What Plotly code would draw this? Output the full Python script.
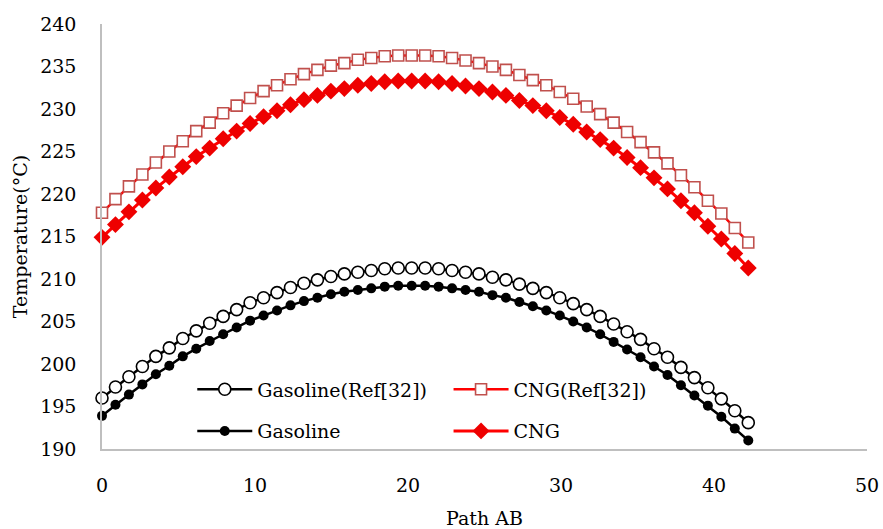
import plotly.graph_objects as go

# Path positions (49 stations along path AB)
path_ab = [0.00, 0.88, 1.76, 2.64, 3.52, 4.40, 5.28, 6.16, 7.04, 7.92,
           8.80, 9.68, 10.56, 11.44, 12.32, 13.20, 14.08, 14.96, 15.84, 16.72,
           17.60, 18.48, 19.36, 20.24, 21.12, 22.00, 22.88, 23.76, 24.64, 25.52,
           26.40, 27.28, 28.16, 29.04, 29.92, 30.80, 31.68, 32.56, 33.44, 34.32,
           35.20, 36.08, 36.96, 37.84, 38.72, 39.60, 40.48, 41.36, 42.24]

gasoline_ref = [196.0, 197.3, 198.5, 199.7, 200.9, 201.9, 203.0, 203.9, 204.8, 205.6,
                206.4, 207.2, 207.8, 208.4, 209.0, 209.5, 209.9, 210.3, 210.6, 210.8,
                211.0, 211.2, 211.3, 211.3, 211.3, 211.2, 211.0, 210.8, 210.6, 210.2,
                209.9, 209.4, 208.9, 208.4, 207.8, 207.1, 206.4, 205.6, 204.7, 203.8,
                202.9, 201.8, 200.8, 199.6, 198.4, 197.2, 195.9, 194.5, 193.1]

gasoline = [193.9, 195.2, 196.4, 197.6, 198.8, 199.8, 200.9, 201.8, 202.7, 203.5,
            204.3, 205.1, 205.7, 206.3, 206.9, 207.4, 207.8, 208.2, 208.5, 208.7,
            208.9, 209.1, 209.2, 209.2, 209.2, 209.1, 208.9, 208.7, 208.5, 208.1,
            207.8, 207.3, 206.8, 206.3, 205.7, 205.0, 204.3, 203.5, 202.6, 201.7,
            200.8, 199.7, 198.7, 197.5, 196.3, 195.1, 193.8, 192.4, 191.0]

cng_ref = [217.8, 219.4, 220.9, 222.3, 223.7, 225.0, 226.2, 227.4, 228.4, 229.5,
           230.4, 231.3, 232.1, 232.8, 233.5, 234.1, 234.6, 235.1, 235.4, 235.8,
           236.0, 236.2, 236.3, 236.3, 236.3, 236.2, 236.0, 235.7, 235.4, 235.0,
           234.6, 234.0, 233.4, 232.8, 232.0, 231.2, 230.3, 229.4, 228.4, 227.3,
           226.1, 224.9, 223.6, 222.2, 220.8, 219.2, 217.7, 216.0, 214.3]

cng = [214.9, 216.4, 217.9, 219.3, 220.7, 222.0, 223.2, 224.4, 225.4, 226.5,
       227.4, 228.3, 229.1, 229.8, 230.5, 231.1, 231.6, 232.1, 232.4, 232.8,
       233.0, 233.2, 233.3, 233.3, 233.3, 233.2, 233.0, 232.7, 232.4, 232.0,
       231.6, 231.0, 230.4, 229.8, 229.0, 228.2, 227.3, 226.4, 225.4, 224.3,
       223.1, 221.9, 220.6, 219.2, 217.8, 216.2, 214.7, 213.0, 211.3]

x_ticks = [0, 10, 20, 30, 40, 50]
y_ticks = [190, 195, 200, 205, 210, 215, 220, 225, 230, 235, 240]

FONT = "DejaVu Serif"

fig = go.Figure()

fig.add_trace(go.Scatter(
    x=path_ab, y=gasoline_ref, name="Gasoline(Ref[32])", mode="lines+markers",
    line=dict(color="black", width=2.5),
    marker=dict(symbol="circle", size=12, color="white", line=dict(color="black", width=1.6)),
    cliponaxis=False, legend="legend", legendgroup="g1"))

fig.add_trace(go.Scatter(
    x=path_ab, y=gasoline, name="Gasoline", mode="lines+markers",
    line=dict(color="black", width=2.5),
    marker=dict(symbol="circle", size=10, color="black"),
    cliponaxis=False, legend="legend", legendgroup="g2"))

fig.add_trace(go.Scatter(
    x=path_ab, y=cng_ref, name="CNG(Ref[32])", mode="lines+markers",
    line=dict(color="#ff0000", width=2.5),
    marker=dict(symbol="square", size=11, color="white", line=dict(color="#c0504d", width=1.6)),
    cliponaxis=False, legend="legend2", legendgroup="c1"))

fig.add_trace(go.Scatter(
    x=path_ab, y=cng, name="CNG", mode="lines+markers",
    line=dict(color="#ff0000", width=3),
    marker=dict(symbol="diamond", size=13, color="#ee0000"),
    cliponaxis=False, legend="legend2", legendgroup="c2"))

axis_common = dict(
    showgrid=False, zeroline=False, showline=True, linecolor="#bfbfbf", linewidth=1.5,
    ticks="", automargin=False,
    tickfont=dict(family=FONT, size=19, color="black"),
    title_font=dict(family=FONT, size=19, color="black"),
)

fig.update_xaxes(range=[0, 50], tickvals=x_ticks, title_text="Path AB",
                 ticklabelstandoff=18, title_standoff=18, **axis_common)
fig.update_yaxes(range=[190, 240], tickvals=y_ticks, title_text="Temperature(°C)",
                 ticklabelstandoff=20, title_standoff=8, **axis_common)

legend_common = dict(
    bgcolor="rgba(0,0,0,0)", borderwidth=0, font=dict(family=FONT, size=19, color="black"),
    itemwidth=55, tracegroupgap=14, orientation="v", xanchor="left", yanchor="top",
    itemclick=False, itemdoubleclick=False,
)

fig.update_layout(
    width=883, height=529,
    margin=dict(l=102, r=16, t=24, b=80),
    paper_bgcolor="white", plot_bgcolor="white",
    showlegend=True,
    legend=dict(x=0.118, y=0.185, **legend_common),
    legend2=dict(x=0.453, y=0.185, **legend_common),
)

fig.write_html("out.html")
